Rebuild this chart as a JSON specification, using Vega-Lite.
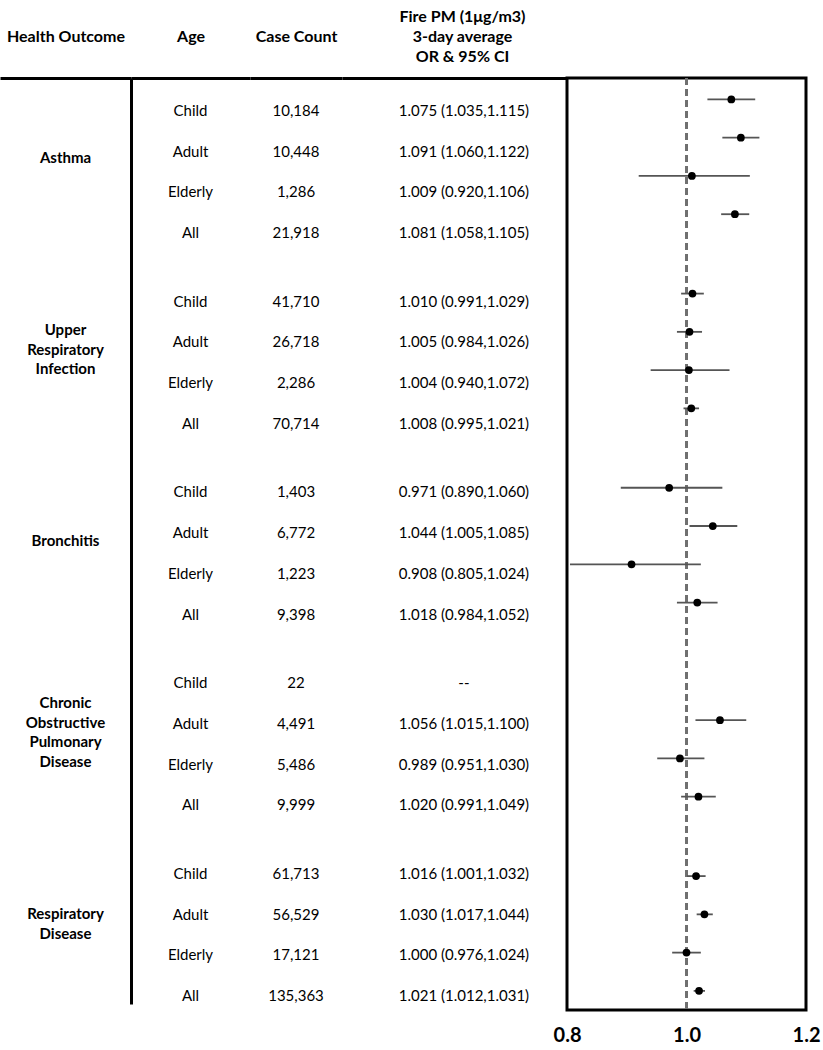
{
  "$schema": "https://vega.github.io/schema/vega-lite/v6.json",
  "background": "white",
  "padding": {"left": 0, "top": 8, "right": 0, "bottom": 0},
  "spacing": 0,
  "bounds": "flush",
  "config": {
    "view": {"stroke": null},
    "font": "Lato",
    "text": {"font": "Lato", "color": "black"},
    "axis": {"titleFont": "Lato", "titleFontWeight": "bold", "titleFontSize": 16, "titleColor": "black", "titleLineHeight": 20, "labelFont": "Lato", "grid": false}
  },
  "datasets": {
    "rows": [
      {"outcome": "Asthma", "age": "Child", "cases": 10184, "or": 1.075, "lo": 1.035, "hi": 1.115, "ci_text": "1.075 (1.035,1.115)"},
      {"outcome": "Asthma", "age": "Adult", "cases": 10448, "or": 1.091, "lo": 1.060, "hi": 1.122, "ci_text": "1.091 (1.060,1.122)"},
      {"outcome": "Asthma", "age": "Elderly", "cases": 1286, "or": 1.009, "lo": 0.920, "hi": 1.106, "ci_text": "1.009 (0.920,1.106)"},
      {"outcome": "Asthma", "age": "All", "cases": 21918, "or": 1.081, "lo": 1.058, "hi": 1.105, "ci_text": "1.081 (1.058,1.105)"},
      {"outcome": "Upper Respiratory Infection", "age": "Child", "cases": 41710, "or": 1.010, "lo": 0.991, "hi": 1.029, "ci_text": "1.010 (0.991,1.029)"},
      {"outcome": "Upper Respiratory Infection", "age": "Adult", "cases": 26718, "or": 1.005, "lo": 0.984, "hi": 1.026, "ci_text": "1.005 (0.984,1.026)"},
      {"outcome": "Upper Respiratory Infection", "age": "Elderly", "cases": 2286, "or": 1.004, "lo": 0.940, "hi": 1.072, "ci_text": "1.004 (0.940,1.072)"},
      {"outcome": "Upper Respiratory Infection", "age": "All", "cases": 70714, "or": 1.008, "lo": 0.995, "hi": 1.021, "ci_text": "1.008 (0.995,1.021)"},
      {"outcome": "Bronchitis", "age": "Child", "cases": 1403, "or": 0.971, "lo": 0.890, "hi": 1.060, "ci_text": "0.971 (0.890,1.060)"},
      {"outcome": "Bronchitis", "age": "Adult", "cases": 6772, "or": 1.044, "lo": 1.005, "hi": 1.085, "ci_text": "1.044 (1.005,1.085)"},
      {"outcome": "Bronchitis", "age": "Elderly", "cases": 1223, "or": 0.908, "lo": 0.805, "hi": 1.024, "ci_text": "0.908 (0.805,1.024)"},
      {"outcome": "Bronchitis", "age": "All", "cases": 9398, "or": 1.018, "lo": 0.984, "hi": 1.052, "ci_text": "1.018 (0.984,1.052)"},
      {"outcome": "Chronic Obstructive Pulmonary Disease", "age": "Child", "cases": 22, "or": null, "lo": null, "hi": null, "ci_text": "--"},
      {"outcome": "Chronic Obstructive Pulmonary Disease", "age": "Adult", "cases": 4491, "or": 1.056, "lo": 1.015, "hi": 1.100, "ci_text": "1.056 (1.015,1.100)"},
      {"outcome": "Chronic Obstructive Pulmonary Disease", "age": "Elderly", "cases": 5486, "or": 0.989, "lo": 0.951, "hi": 1.030, "ci_text": "0.989 (0.951,1.030)"},
      {"outcome": "Chronic Obstructive Pulmonary Disease", "age": "All", "cases": 9999, "or": 1.020, "lo": 0.991, "hi": 1.049, "ci_text": "1.020 (0.991,1.049)"},
      {"outcome": "Respiratory Disease", "age": "Child", "cases": 61713, "or": 1.016, "lo": 1.001, "hi": 1.032, "ci_text": "1.016 (1.001,1.032)"},
      {"outcome": "Respiratory Disease", "age": "Adult", "cases": 56529, "or": 1.030, "lo": 1.017, "hi": 1.044, "ci_text": "1.030 (1.017,1.044)"},
      {"outcome": "Respiratory Disease", "age": "Elderly", "cases": 17121, "or": 1.000, "lo": 0.976, "hi": 1.024, "ci_text": "1.000 (0.976,1.024)"},
      {"outcome": "Respiratory Disease", "age": "All", "cases": 135363, "or": 1.021, "lo": 1.012, "hi": 1.031, "ci_text": "1.021 (1.012,1.031)"}
    ]
  },
  "resolve": {"scale": {"x": "independent", "y": "independent", "yOffset": "independent"}},
  "hconcat": [
    {
      "width": 131,
      "height": 926,
      "data": {"name": "rows"},
      "transform": [{"filter": "datum.age === 'All'"}],
      "encoding": {
        "x": {"datum": 0, "type": "quantitative", "scale": {"domain": [-1, 1]},
              "axis": {"orient": "top", "title": "Health Outcome", "labels": false, "ticks": false, "domain": true, "domainColor": "black", "domainWidth": 3, "titlePadding": 34}},
        "y": {"field": "outcome", "type": "nominal",
              "scale": {"type": "point", "domain": ["Asthma", "Upper Respiratory Infection", "Bronchitis", "Chronic Obstructive Pulmonary Disease", "Respiratory Disease"], "padding": 0.418},
              "axis": {"orient": "right", "labels": false, "ticks": false, "title": null, "domain": true, "domainColor": "black", "domainWidth": 3}},
        "text": {"field": "outcome", "type": "nominal"}
      },
      "layer": [
        {
          "transform": [{"filter": {"field": "outcome", "oneOf": ["Asthma", "Bronchitis"]}}],
          "mark": {"type": "text", "fontSize": 15, "fontWeight": "bold", "lineBreak": " ", "lineHeight": 19.5, "baseline": "middle", "align": "center"}
        },
        {
          "transform": [{"filter": {"field": "outcome", "equal": "Respiratory Disease"}}],
          "mark": {"type": "text", "fontSize": 15, "fontWeight": "bold", "lineBreak": " ", "lineHeight": 19.5, "baseline": "middle", "align": "center", "dy": -9.75}
        },
        {
          "transform": [{"filter": {"field": "outcome", "equal": "Upper Respiratory Infection"}}],
          "mark": {"type": "text", "fontSize": 15, "fontWeight": "bold", "lineBreak": " ", "lineHeight": 19.5, "baseline": "middle", "align": "center", "dy": -19.5}
        },
        {
          "transform": [{"filter": {"field": "outcome", "equal": "Chronic Obstructive Pulmonary Disease"}}],
          "mark": {"type": "text", "fontSize": 15, "fontWeight": "bold", "lineBreak": " ", "lineHeight": 19.5, "baseline": "middle", "align": "center", "dy": -29.25}
        }
      ]
    },
    {
      "width": 119,
      "height": 918,
      "data": {"name": "rows"},
      "mark": {"type": "text", "fontSize": 15, "baseline": "middle", "align": "center"},
      "encoding": {
        "x": {"datum": 0, "type": "quantitative", "scale": {"domain": [-1, 1]},
              "axis": {"orient": "top", "title": "Age", "labels": false, "ticks": false, "domain": true, "domainColor": "black", "domainWidth": 3, "titlePadding": 34}},
        "y": {"field": "outcome", "type": "nominal",
              "scale": {"type": "band", "domain": ["Asthma", "Upper Respiratory Infection", "Bronchitis", "Chronic Obstructive Pulmonary Disease", "Respiratory Disease"], "paddingInner": 0.3604, "paddingOuter": 0.0865, "align": 1},
              "axis": null},
        "yOffset": {"field": "age", "type": "nominal", "scale": {"type": "point", "domain": ["Child", "Adult", "Elderly", "All"], "padding": 0}},
        "text": {"field": "age", "type": "nominal"}
      }
    },
    {
      "width": 92,
      "height": 918,
      "data": {"name": "rows"},
      "mark": {"type": "text", "fontSize": 15, "baseline": "middle", "align": "center"},
      "encoding": {
        "x": {"datum": 0, "type": "quantitative", "scale": {"domain": [-1, 1]},
              "axis": {"orient": "top", "title": "Case Count", "labels": false, "ticks": false, "domain": true, "domainColor": "black", "domainWidth": 3, "titlePadding": 34}},
        "y": {"field": "outcome", "type": "nominal",
              "scale": {"type": "band", "domain": ["Asthma", "Upper Respiratory Infection", "Bronchitis", "Chronic Obstructive Pulmonary Disease", "Respiratory Disease"], "paddingInner": 0.3604, "paddingOuter": 0.0865, "align": 1},
              "axis": null},
        "yOffset": {"field": "age", "type": "nominal", "scale": {"type": "point", "domain": ["Child", "Adult", "Elderly", "All"], "padding": 0}},
        "text": {"field": "cases", "type": "quantitative", "format": ","}
      }
    },
    {
      "width": 225,
      "height": 918,
      "data": {"name": "rows"},
      "mark": {"type": "text", "fontSize": 15, "baseline": "middle", "align": "center"},
      "encoding": {
        "x": {"datum": 0, "type": "quantitative", "scale": {"domain": [-1, 0.845]},
              "axis": {"orient": "top", "title": ["Fire PM (1μg/m3)", "3-day average", "OR & 95% CI"], "titleX": 120, "labels": false, "ticks": false, "domain": true, "domainColor": "black", "domainWidth": 3, "titlePadding": 14}},
        "y": {"field": "outcome", "type": "nominal",
              "scale": {"type": "band", "domain": ["Asthma", "Upper Respiratory Infection", "Bronchitis", "Chronic Obstructive Pulmonary Disease", "Respiratory Disease"], "paddingInner": 0.3604, "paddingOuter": 0.0865, "align": 1},
              "axis": null},
        "yOffset": {"field": "age", "type": "nominal", "scale": {"type": "point", "domain": ["Child", "Adult", "Elderly", "All"], "padding": 0}},
        "text": {"field": "ci_text", "type": "nominal"}
      }
    },
    {
      "width": 239,
      "height": 932,
      "data": {"name": "rows"},
      "view": {"stroke": "black", "strokeWidth": 3},
      "encoding": {
        "y": {"field": "outcome", "type": "nominal",
              "scale": {"type": "band", "domain": ["Asthma", "Upper Respiratory Infection", "Bronchitis", "Chronic Obstructive Pulmonary Disease", "Respiratory Disease"], "paddingInner": 0.2, "paddingOuter": 0},
              "axis": null},
        "yOffset": {"field": "age", "type": "nominal", "scale": {"type": "band", "domain": ["Child", "Adult", "Elderly", "All"], "paddingInner": 0, "paddingOuter": 0.03, "align": 1}}
      },
      "layer": [
        {
          "mark": {"type": "rule", "color": "#707070", "strokeWidth": 1.6, "strokeDash": [7, 4]},
          "encoding": {
            "x": {"datum": 1, "type": "quantitative"},
            "y": null,
            "yOffset": null
          }
        },
        {
          "mark": {"type": "rule", "color": "#555555", "strokeWidth": 1.8},
          "encoding": {
            "x": {"field": "lo", "type": "quantitative", "scale": {"domain": [0.8, 1.2], "nice": false, "zero": false},
                  "axis": {"orient": "bottom", "values": [0.8, 1.0, 1.2], "format": ".1f", "labelFontSize": 20, "labelFontWeight": "bold", "labelColor": "black", "labelPadding": 15, "labelFlush": false, "labelBound": false, "domain": false, "ticks": false, "title": null}},
            "x2": {"field": "hi"}
          }
        },
        {
          "mark": {"type": "point", "filled": true, "color": "black", "opacity": 1, "size": 60},
          "encoding": {
            "x": {"field": "or", "type": "quantitative"}
          }
        }
      ]
    }
  ]
}
